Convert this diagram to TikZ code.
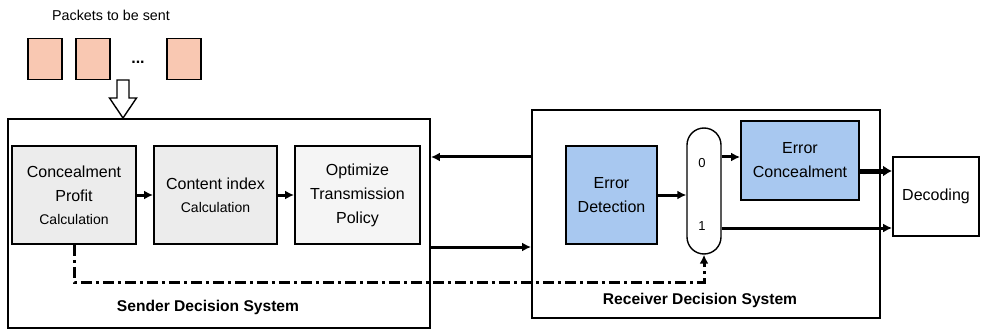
\documentclass[tikz,border=0pt]{standalone}
\usepackage{fontspec}
\setmainfont{Liberation Sans}
\usetikzlibrary{arrows.meta}

\definecolor{packetfill}{HTML}{F9C8B2}
\definecolor{grayfill}{HTML}{ECECEC}
\definecolor{lightfill}{HTML}{F5F5F5}
\definecolor{bluefill}{HTML}{A8C8F0}

\begin{document}
\begin{tikzpicture}[x=1pt,y=-1pt,
    sysbox/.style={draw,line width=1.9pt,inner sep=0pt},
    block/.style={draw,line width=1.9pt,inner sep=0pt,align=center,font=\fontsize{16}{24}\selectfont},
    packet/.style={draw,line width=1.9pt,fill=packetfill,minimum width=34pt,minimum height=41pt,inner sep=0pt},
    arr/.style={line width=3pt,-{Latex[length=9pt,width=9pt]}},
    title/.style={font=\fontsize{15.6}{18}\selectfont\bfseries}]
  \fill[white] (0,0) rectangle (981,331);
  \clip (0,0) rectangle (981,331);

  \node[font=\fontsize{14.3}{18}\selectfont] (ptext) at (111,15) {Packets to be sent};
  \node[packet] (p1) at (45,59) {};
  \node[packet] (p2) at (93,59) {};
  \node[font=\fontsize{16}{18}\selectfont\bfseries] (pdots) at (138,62) {...};
  \node[packet] (p3) at (184,59) {};

  \node[sysbox,minimum width=422pt,minimum height=209pt] (sender) at (219,223.5) {};
  \node[sysbox,minimum width=348pt,minimum height=208pt] (receiver) at (706,214) {};

  \coordinate (intip) at (123,118);
  \draw[line width=1.4pt,fill=white] (intip) -- ++(-13.5,-20) -- ++(7.5,0) -- ++(0,-18)
    -- ++(12,0) -- ++(0,18) -- ++(7.5,0) -- cycle;

  \node[block,fill=grayfill,minimum width=124pt,minimum height=98pt] (conceal) at (74,195)
    {Concealment\\Profit\\[-1pt]{\fontsize{14}{16}\selectfont Calculation}};
  \node[block,fill=grayfill,minimum width=123pt,minimum height=98pt] (content) at (215.5,195)
    {Content index\\[-1pt]{\fontsize{14}{16}\selectfont Calculation}};
  \node[block,fill=lightfill,minimum width=125pt,minimum height=98pt] (optim) at (357.5,195)
    {Optimize\\Transmission\\Policy};

  \node[block,fill=bluefill,minimum width=91pt,minimum height=98pt] (detect) at (611.5,195)
    {Error\\Detection};
  \node[draw,line width=1.4pt,rounded corners=17pt,minimum width=34pt,minimum height=126pt,inner sep=0pt] (switch) at (704,191) {};
  \node[font=\fontsize{13}{14}\selectfont] (zero) at (702,163) {0};
  \node[font=\fontsize{13}{14}\selectfont] (one) at (702,226) {1};
  \node[block,fill=bluefill,minimum width=118pt,minimum height=79pt] (errconceal) at (800,160.5)
    {Error\\Concealment};
  \node[block,minimum width=86pt,minimum height=79pt] (decoding) at (936,196.5) {Decoding};

  \node[title] (sendertitle) at (208,307) {Sender Decision System};
  \node[title] (receivertitle) at (700,300) {Receiver Decision System};

  \coordinate (dashcorner1) at (74,282);
  \coordinate (dashcorner2) at (704,282);

  \draw[arr] (conceal.east) -- (content.west);
  \draw[arr] (content.east) -- (optim.west);
  \draw[arr] (receiver.west |- 0,157) -- (sender.east |- 0,157);
  \draw[arr] (sender.east |- 0,247) -- (receiver.west |- 0,247);
  \draw[arr] (detect.east) -- (switch.west |- detect.east);
  \draw[arr] (switch.east |- 0,157) -- (errconceal.west |- 0,157);
  \draw[line width=5pt,-{Latex[length=9pt,width=11pt]}] (errconceal.east |- 0,171) -- (decoding.west |- 0,171);
  \draw[arr] (switch.east |- 0,228) -- (decoding.west |- 0,228);
  \draw[line width=3pt,dash pattern=on 11pt off 4pt on 3pt off 4pt,-{Latex[length=9pt,width=9pt]}]
    (conceal.south) -- (dashcorner1) -- (dashcorner2) -- (switch.south);
\end{tikzpicture}
\end{document}
